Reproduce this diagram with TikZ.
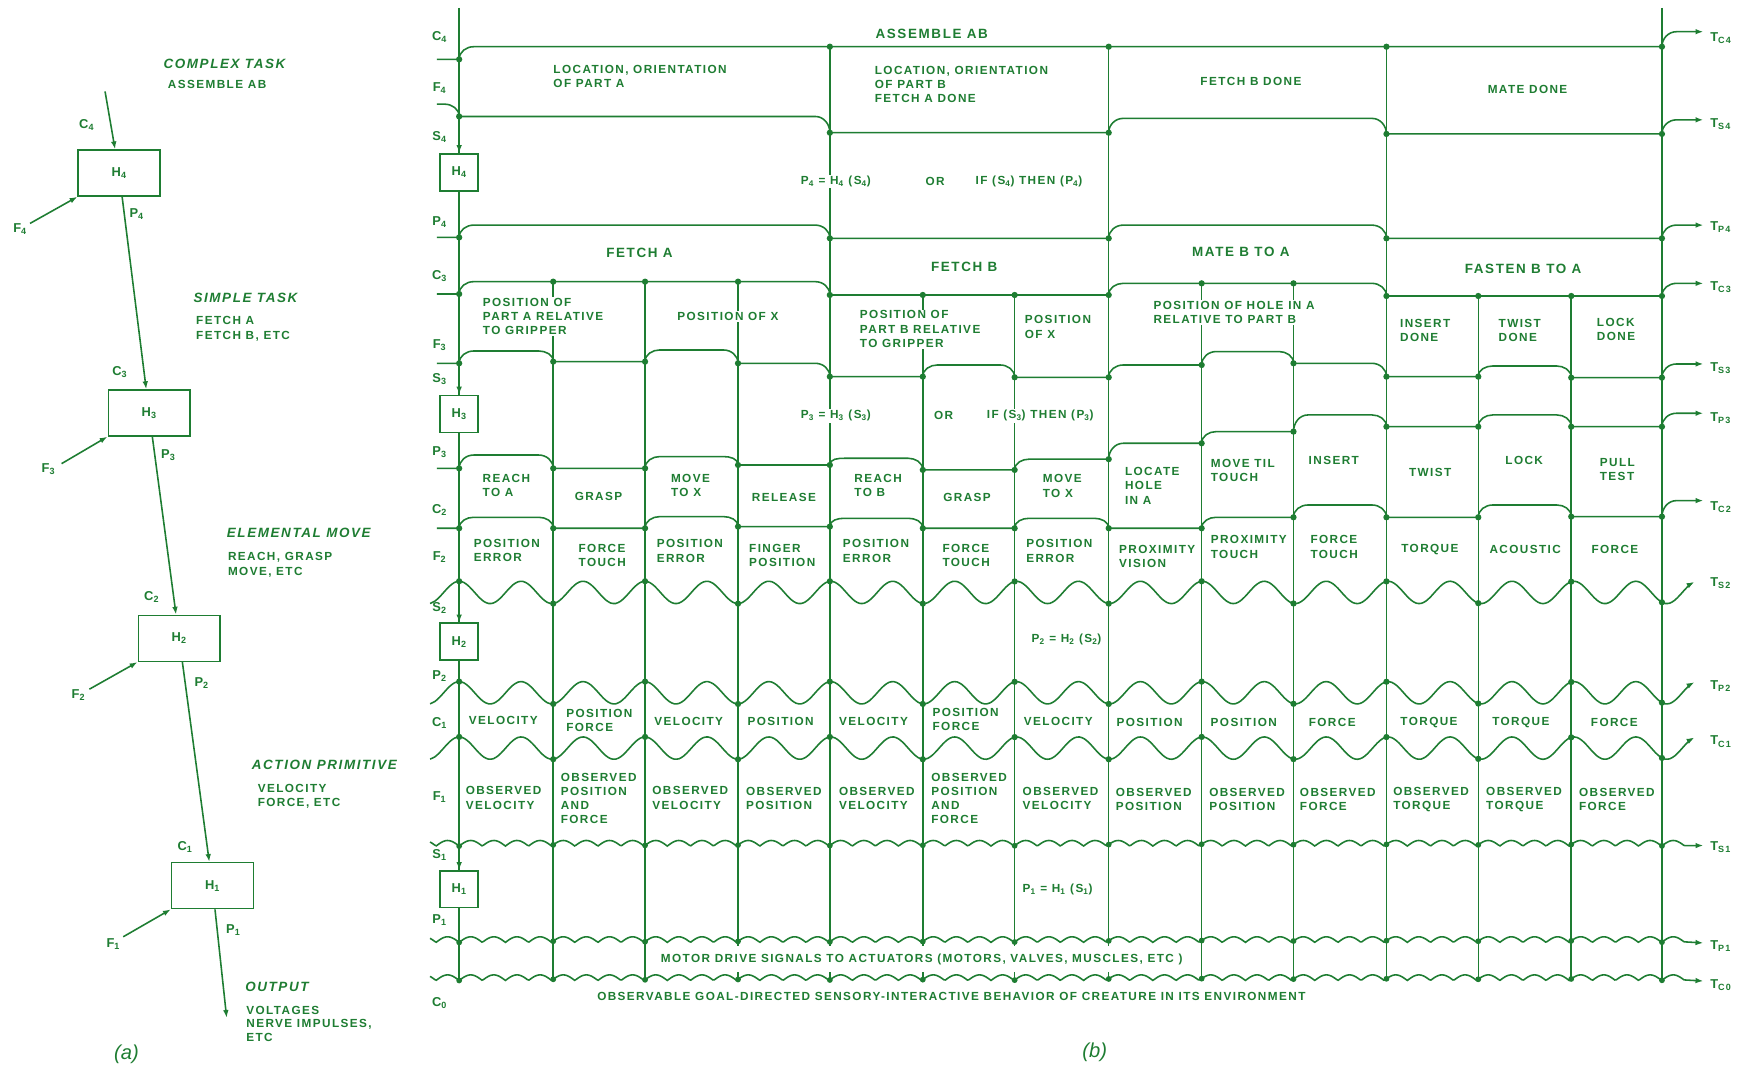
\documentclass[tikz,border=0pt]{standalone}
\usepackage{fontspec}
\setmainfont{Liberation Sans}
\newfontfamily\lett[LetterSpace=12]{Liberation Sans}
\usetikzlibrary{arrows.meta}
\definecolor{ink}{RGB}{30,125,50}
\newcommand\lbltext{\lett\bfseries\fontsize{10.5}{12.7}\selectfont}
\newcommand\lblcmd{\lett\bfseries\fontsize{12}{14}\selectfont}
\newcommand\lblhead{\lett\bfseries\itshape\fontsize{12}{14}\selectfont}
\newcommand\lblsig{\lett\bfseries\fontsize{11.5}{13}\selectfont}
\newcommand\lblfig{\fontsize{18}{20}\selectfont\itshape}
\newcommand\sx[2]{#1\textsubscript{#2}}

% stepped level line: stub level, list of boundary/new level, exit level
\newcommand\sigline[3]{%
  \draw[sigln,->] (390,#1)
    \foreach \x/\y [remember=\y as \prev (initially #1),
        evaluate=\y as \xa using \x-(\y>\prev?13:0),
        evaluate=\y as \xb using \x+(\y<\prev?13:0),
        evaluate=\y as \ao using (\y>\prev?0:90),
        evaluate=\y as \ai using (\y>\prev?90:180)]
      in {#2} {-- (\xa,\prev) to[out=\ao,in=\ai] (\xb,\y)}
    -- (1521,#3);
  \foreach \x/\y [remember=\y as \prev (initially #1),
      evaluate=\y as \yd using (\y>\prev?\y:\prev)] in {#2}
    \fill[ink] (\x,\yd) circle (2.8);}
% wavy lines of the two lowest levels
\newcommand\bigwave[1]{%
  \draw[sigln,->] plot[domain=384:1513,samples=260,smooth]
    (\x,{#1-10*cos(6.5099*(\x-410))});
  \foreach \x in {410,494,576,659,741,824,906,990,1073,1155,1238,1320,1403,1484}
    \fill[ink] (\x,{#1-10*cos(6.5099*(\x-410))}) circle (2.8);}
\newcommand\smallwave[2]{%
  \draw[sigln,->] plot[domain=384:1505,samples=800]
    (\x,{#1+2.5-5*abs(sin(8.717*(\x-410)))}) -- (1521,#2);
  \foreach \x in {410,494,576,659,741,824,906,990,1073,1155,1238,1320,1403,1484}
    \fill[ink] (\x,{#1+2.5-5*abs(sin(8.717*(\x-410)))}) circle (2.6);}

\begin{document}
\begin{tikzpicture}[x=1pt, y=-1pt, >={Latex[length=7pt,width=5pt]},
    sigln/.style={draw=ink, line width=1.4pt},
    arr/.style={sigln, ->},
    lbltxt/.style={font=\lbltext, text=ink, align=left, inner sep=1pt},
    lblwht/.style={lbltxt, fill=white},
    cmdtxt/.style={font=\lblcmd, text=ink, inner sep=1pt},
    headtxt/.style={font=\lblhead, text=ink, inner sep=0pt, anchor=west},
    siglbl/.style={font=\lblsig, text=ink, inner sep=0pt},
    hbox/.style={draw=ink, line width=1.4pt, fill=white, font=\lblsig,
                 text=ink, minimum width=73pt, minimum height=41pt},
    hsmall/.style={hbox, minimum width=34pt, minimum height=33pt},
]
\path[fill=white, use as bounding box] (0,0) rectangle (1568,956);

% (a): chain of H modules
\node[hbox] (h4) at (106.4,154.5) {\sx{H}{4}};
\node[hbox] (h3) at (133.2,368.7) {\sx{H}{3}};
\node[hbox] (h2) at (160,570) {\sx{H}{2}};
\node[hbox] (h1) at (189.7,790.8) {\sx{H}{1}};
\coordinate (c4in) at (93.8,81.6);
\coordinate (f4in) at (26.8,199.5);
\coordinate (f3in) at (55,414);
\coordinate (f2in) at (79.8,615.4);
\coordinate (f1in) at (110,836.5);
\coordinate (pout) at (202.4,908.9);
\draw[arr] (c4in) -- (h4);
\draw[arr] (h4) -- (h3);
\draw[arr] (h3) -- (h2);
\draw[arr] (h2) -- (h1);
\draw[arr] (h1) -- (pout);
\draw[arr] (f4in) -- (h4.south west);
\draw[arr] (f3in) -- (h3.south west);
\draw[arr] (f2in) -- (h2.south west);
\draw[arr] (f1in) -- (h1.south west);

\foreach \x/\y/\lab [count=\i] in {77.4/112/{\sx{C}{4}}, 17.9/204.7/{\sx{F}{4}},
    122/191/{\sx{P}{4}}, 107/332.5/{\sx{C}{3}}, 43.2/418.7/{\sx{F}{3}},
    150.3/406/{\sx{P}{3}}, 135.4/533/{\sx{C}{2}}, 70/621/{\sx{F}{2}},
    180/610/{\sx{P}{2}}, 165.2/756.5/{\sx{C}{1}}, 101.2/842.7/{\sx{F}{1}},
    208.3/830.4/{\sx{P}{1}}}
  \node[siglbl] (la\i) at (\x,\y) {\lab};

\node[headtxt] (hd4) at (145.8,57) {COMPLEX TASK};
\node[lbltxt, anchor=west] (ex4) at (148.8,75.4) {ASSEMBLE AB};
\node[headtxt] (hd3) at (172.6,266) {SIMPLE TASK};
\node[lbltxt, anchor=west] (ex3) at (174,293.5) {FETCH A\\FETCH B, ETC};
\node[headtxt] (hd2) at (202.4,476) {ELEMENTAL MOVE};
\node[lbltxt, anchor=west] (ex2) at (202.4,504.3) {REACH, GRASP\\MOVE, ETC};
\node[headtxt] (hd1) at (224.7,682.6) {ACTION PRIMITIVE};
\node[lbltxt, anchor=west] (ex1) at (229,711.3) {VELOCITY\\FORCE, ETC};
\node[headtxt] (hd0) at (218.8,881.2) {OUTPUT};
\node[lbltxt, anchor=west, font=\lett\bfseries\fontsize{10.5}{12.2}\selectfont]
  (ex0) at (218.8,914.2) {VOLTAGES\\NERVE IMPULSES,\\ETC};
\node[text=ink, font=\lblfig] (capa) at (113,941) {(a)};

% (b): verticals
\draw[sigln] (410,7) -- (410,873);
\draw[sigln] (1484,7) -- (1484,873);
\foreach \x in {741,990,1238} {
  \draw[sigln] (\x,41.7) -- (\x,873);
  \fill[ink] (\x,41.7) circle (2.8);}
\foreach \x/\y in {494/251.5,576/251.5,659/251.5,824/263.4,906/263.4,
                   1073/253,1155/253,1320/264.3,1403/264.3} {
  \draw[sigln] (\x,\y) -- (\x,873);
  \fill[ink] (\x,\y) circle (2.8);}

% (b): level 4 and level 3 lines
\sigline{53}{410/41.7,1484/28.3}{28.3}
\sigline{93}{410/104,741/118.5,990/105.7,1238/119.6,1484/107}{107}
\sigline{212}{410/201,741/212.8,990/201,1238/212.8,1484/201}{201}
\sigline{262.5}{410/251.5,741/263.4,990/253,1238/264.3,1484/253}{253}
\sigline{324.4}{410/313.4,494/322.9,576/312.5,659/324.4,741/336.3,824/325.9,
  906/336.9,990/325.9,1073/313.9,1155/324.4,1238/336.3,1320/326.8,1403/337.2,
  1484/325}{325}
\sigline{418.2}{410/406.3,494/418.2,576/407.7,659/415.2,741/409.2,824/419.6,
  906/410,990/395.8,1073/385.4,1155/370.5,1238/381,1320/370.5,1403/381,
  1484/369}{369}
\sigline{471.7}{410/461.9,494/471.7,576/461.3,659/470.2,741/462.8,824/471.7,
  906/462.8,990/471.7,1073/461.9,1155/450.9,1238/461.9,1320/450.9,1403/461.3,
  1484/447}{447}

% (b): levels 2 and 1
\bigwave{529}
\bigwave{618.6}
\bigwave{668}
\smallwave{753}{755}
\smallwave{839}{842}
\smallwave{873}{876}

% (b): H modules on the left time line
\node[hsmall] (hb4) at (410,153.8) {\sx{H}{4}};
\node[hsmall] (hb3) at (410,369.5) {\sx{H}{3}};
\node[hsmall] (hb2) at (410,573) {\sx{H}{2}};
\node[hsmall] (hb1) at (410,794) {\sx{H}{1}};
\coordinate (s4) at (410,104);
\coordinate (s3) at (410,324.4);
\coordinate (s2) at (410,519);
\coordinate (s1) at (410,753);
\draw[arr] (s4) -- (hb4);
\draw[arr] (s3) -- (hb3);
\draw[arr] (s2) -- (hb2);
\draw[arr] (s1) -- (hb1);

% (b): signal names
\foreach \y/\lab [count=\i] in {32.7/{\sx{C}{4}}, 78.9/{\sx{F}{4}}, 122/{\sx{S}{4}},
    198/{\sx{P}{4}}, 246.4/{\sx{C}{3}}, 308/{\sx{F}{3}}, 338.4/{\sx{S}{3}},
    404/{\sx{P}{3}}, 455.4/{\sx{C}{2}}, 497/{\sx{F}{2}}, 543/{\sx{S}{2}},
    604/{\sx{P}{2}}, 645.8/{\sx{C}{1}}, 711.3/{\sx{F}{1}}, 763.4/{\sx{S}{1}},
    821.4/{\sx{P}{1}}, 895.8/{\sx{C}{0}}}
  \node[siglbl] (lb\i) at (392.5,\y) {\lab};
\foreach \y/\lab [count=\i] in {34.2/C4, 110.7/S4, 202.4/P4, 256/C3, 328.9/S3,
    373.5/P3, 452.4/C2, 520.8/S2, 612.5/P2, 662.2/C1, 756.5/S1, 845/P1, 879.5/C0}
  \node[siglbl, anchor=west] (tb\i) at (1527,\y) {\sx{T}{\lab}};

% (b): level 4 texts
\node[cmdtxt] (asm) at (832,30) {ASSEMBLE AB};
\node[lbltxt, anchor=west] (f4a) at (493,68) {LOCATION, ORIENTATION\\OF PART A};
\node[lbltxt, anchor=west] (f4b) at (780,75.4) {LOCATION, ORIENTATION\\OF PART B\\FETCH A DONE};
\node[lbltxt] (f4c) at (1117,73) {FETCH B DONE};
\node[lbltxt] (f4d) at (1364,79.8) {MATE DONE};
\node[lblwht, anchor=west] (eq4a) at (714,162) {\sx{P}{4} = \sx{H}{4} (\sx{S}{4})};
\node[lbltxt] (eq4b) at (835,162) {OR};
\node[lblwht, anchor=west] (eq4c) at (870,162) {IF (\sx{S}{4}) THEN (\sx{P}{4})};
\node[cmdtxt] (c3a) at (571,226) {FETCH A};
\node[cmdtxt] (c3b) at (861,238) {FETCH B};
\node[cmdtxt] (c3c) at (1108,225) {MATE B TO A};
\node[cmdtxt] (c3d) at (1360,239.7) {FASTEN B TO A};

% (b): level 3 texts
\foreach \x/\y/\a/\lab [count=\i] in {
    430/282.6/west/{POSITION OF\\PART A RELATIVE\\TO GRIPPER},
    650/282.7/center/{POSITION OF X},
    766.7/293.9/west/{POSITION OF\\PART B RELATIVE\\TO GRIPPER},
    914/292/west/{POSITION\\OF X},
    1028.8/279.3/west/{POSITION OF HOLE IN A\\RELATIVE TO PART B},
    1249/295/west/{INSERT\\DONE}, 1337/295/west/{TWIST\\DONE},
    1424.8/294.5/west/{LOCK\\DONE}}
  \node[lblwht, anchor=\a] (f3t\i) at (\x,\y) {\lab};
\node[lblwht, anchor=west] (eq3a) at (714,371.4) {\sx{P}{3} = \sx{H}{3} (\sx{S}{3})};
\node[lbltxt] (eq3b) at (842.5,371.4) {OR};
\node[lblwht, anchor=west] (eq3c) at (880,371.4) {IF (\sx{S}{3}) THEN (\sx{P}{3})};
\foreach \x/\y/\a/\lab [count=\i] in {
    429.8/433.7/west/{REACH\\TO A}, 534.4/442.9/center/GRASP,
    598/433.8/west/{MOVE\\TO X}, 700/443.8/center/RELEASE,
    761.7/433.8/west/{REACH\\TO B}, 863.5/443.8/center/GRASP,
    930/434/west/{MOVE\\TO X}, 1003.4/433.7/west/{LOCATE\\HOLE\\IN A},
    1080/420/west/{MOVE TIL\\TOUCH}, 1191/411.3/center/INSERT,
    1277/421.7/center/TWIST, 1361/411.3/center/LOCK,
    1427.4/419/west/{PULL\\TEST}}
  \node[lbltxt, anchor=\a] (c2t\i) at (\x,\y) {\lab};

% (b): level 2 texts
\foreach \x/\y/\a/\lab [count=\i] in {
    421.9/491.5/west/{POSITION\\ERROR}, 515.5/495.8/west/{FORCE\\TOUCH},
    585.3/492/west/{POSITION\\ERROR}, 667.8/496.1/west/{FINGER\\POSITION},
    751.5/492/west/{POSITION\\ERROR}, 840.4/496/west/{FORCE\\TOUCH},
    915.2/491.9/west/{POSITION\\ERROR}, 998.2/496.8/west/{PROXIMITY\\VISION},
    1080/488.3/west/{PROXIMITY\\TOUCH}, 1169/488.3/west/{FORCE\\TOUCH},
    1276.8/490.5/center/TORQUE, 1361.9/490.5/center/ACOUSTIC,
    1442/490.5/center/FORCE}
  \node[lbltxt, anchor=\a] (f2t\i) at (\x,\y) {\lab};
\node[lblwht, anchor=west] (eq2) at (920,570.8) {\sx{P}{2} = \sx{H}{2} (\sx{S}{2})};
\foreach \x/\y/\a/\lab [count=\i] in {
    449.4/643/center/VELOCITY, 504.5/643.3/west/{POSITION\\FORCE},
    615/644/center/VELOCITY, 697/644.6/center/POSITION,
    780/644.6/center/VELOCITY, 831.6/642.4/west/{POSITION\\FORCE},
    945/644.6/center/VELOCITY, 1026.5/645/center/POSITION,
    1110.6/645/center/POSITION, 1189.6/645/center/FORCE,
    1276/645/center/TORQUE, 1358/645/center/TORQUE,
    1441.5/645/center/FORCE}
  \node[lbltxt, anchor=\a] (c1t\i) at (\x,\y) {\lab};

% (b): level 1 texts
\foreach \x/\y/\lab [count=\i] in {
    414.7/712.5/{OBSERVED\\VELOCITY}, 499.6/713/{OBSERVED\\POSITION\\AND\\FORCE},
    581.3/712.5/{OBSERVED\\VELOCITY}, 665/712.8/{OBSERVED\\POSITION},
    748/713/{OBSERVED\\VELOCITY}, 830.4/713/{OBSERVED\\POSITION\\AND\\FORCE},
    912/713/{OBSERVED\\VELOCITY}, 995.2/713.6/{OBSERVED\\POSITION},
    1078.6/713.6/{OBSERVED\\POSITION}, 1159.6/713.6/{OBSERVED\\FORCE},
    1242.9/713.6/{OBSERVED\\TORQUE}, 1325.9/713.6/{OBSERVED\\TORQUE},
    1408.8/713.6/{OBSERVED\\FORCE}}
  \node[lbltxt, anchor=west] (f1t\i) at (\x,\y) {\lab};
\node[lblwht, anchor=west] (eq1) at (912,794.6) {\sx{P}{1} = \sx{H}{1} (\sx{S}{1})};
\node[lblwht, inner ysep=7pt] (motor) at (823,856.3)
  {MOTOR DRIVE SIGNALS TO ACTUATORS (MOTORS, VALVES, MUSCLES, ETC )};
\node[lbltxt] (behav) at (849.5,889.9)
  {OBSERVABLE GOAL-DIRECTED SENSORY-INTERACTIVE BEHAVIOR OF CREATURE IN ITS ENVIRONMENT};
\node[text=ink, font=\lblfig] (capb) at (977.5,940) {(b)};
\end{tikzpicture}
\end{document}
